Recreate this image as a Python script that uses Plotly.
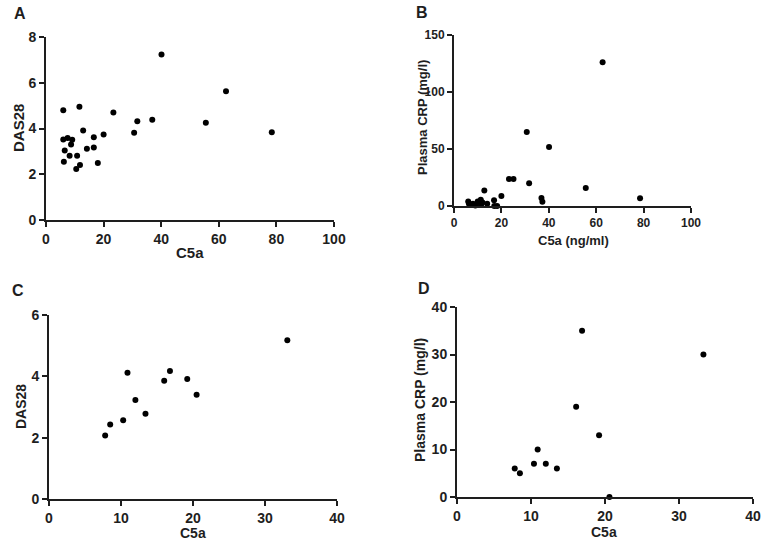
import plotly.graph_objects as go

# Panel A: C5a vs DAS28
a_c5a = [6.0, 11.6, 23.4, 40.1, 62.5, 55.5, 78.4, 36.9, 31.7, 30.6, 20.0, 16.6, 12.9,
         6.0, 7.5, 9.1, 8.7, 6.5, 14.2, 16.6, 8.2, 10.8, 6.2, 18.0, 11.8, 10.5]
a_das28 = [4.8, 4.95, 4.7, 7.24, 5.63, 4.25, 3.84, 4.38, 4.32, 3.81, 3.74, 3.62, 3.91,
           3.52, 3.58, 3.51, 3.30, 3.04, 3.11, 3.17, 2.81, 2.81, 2.55, 2.49, 2.40, 2.23]

# Panel B: C5a (ng/ml) vs Plasma CRP (mg/l)
b_c5a = [62.7, 30.7, 40.1, 23.2, 25.1, 31.7, 55.6, 78.5, 12.8, 20.0, 36.9, 37.3, 16.9,
         6.0, 6.3, 7.0, 8.0, 9.0, 10.0, 10.8, 11.3, 11.5, 12.0, 14.0, 17.0, 18.2]
b_crp = [126, 65, 51.8, 23.7, 23.7, 19.9, 15.8, 6.7, 13.7, 8.8, 7.0, 3.8, 5.0,
         4.0, 2.0, 1.0, 2.0, 0.5, 4.0, 2.5, 5.5, 1.5, 3.0, 2.0, 0.0, 0.0]

# Panel C: C5a vs DAS28
c_c5a = [7.8, 8.5, 10.3, 10.9, 12.0, 13.4, 16.0, 16.8, 19.2, 20.5, 33.1]
c_das28 = [2.07, 2.43, 2.57, 4.12, 3.23, 2.78, 3.86, 4.17, 3.91, 3.40, 5.18]

# Panel D: C5a vs Plasma CRP (mg/l)
d_c5a = [7.8, 8.5, 10.4, 10.9, 12.0, 13.5, 16.1, 16.9, 19.2, 20.6, 33.3]
d_crp = [6.0, 5.0, 7.0, 10.0, 7.0, 6.0, 19.0, 35.0, 13.0, 0.0, 30.0]

W, H = 762, 540
panels = [
    dict(x=a_c5a, y=a_das28, xr=[0, 100], xt=[0, 20, 40, 60, 80, 100], yr=[0, 8], yt=[0, 2, 4, 6, 8],
         xtitle="C5a", ytitle="DAS28", xd=[46, 334], yd=[220, 37], fs=14, ts=15,
         letter="A", lx=12, ly=14, xtp=(190, 252), ytp=(18, 128)),
    dict(x=b_c5a, y=b_crp, xr=[0, 100], xt=[0, 20, 40, 60, 80, 100], yr=[0, 150], yt=[0, 50, 100, 150],
         xtitle="C5a (ng/ml)", ytitle="Plasma CRP (mg/l)", xd=[454, 691], yd=[206, 35],
         fs=12, ts=13, letter="B", lx=414, ly=12, xtp=(573, 240), ytp=(422, 118)),
    dict(x=c_c5a, y=c_das28, xr=[0, 40], xt=[0, 10, 20, 30, 40], yr=[0, 6], yt=[0, 2, 4, 6],
         xtitle="C5a", ytitle="DAS28", xd=[49, 337], yd=[499, 315], fs=14, ts=14,
         letter="C", lx=10, ly=290, xtp=(193, 533), ytp=(21, 407)),
    dict(x=d_c5a, y=d_crp, xr=[0, 40], xt=[0, 10, 20, 30, 40], yr=[0, 40], yt=[0, 10, 20, 30, 40],
         xtitle="C5a", ytitle="Plasma CRP (mg/l)", xd=[457, 753], yd=[497, 307],
         fs=14, ts=14, letter="D", lx=416, ly=288, xtp=(604, 532), ytp=(420, 400)),
]

FONT = "Liberation Sans, Arial, sans-serif"
INK = "#1e1e1e"
fig = go.Figure()
annotations = []
for i, p in enumerate(panels, start=1):
    xa = "x" if i == 1 else f"x{i}"
    ya = "y" if i == 1 else f"y{i}"
    fig.add_trace(go.Scatter(x=p["x"], y=p["y"], mode="markers", xaxis=xa, yaxis=ya,
                             marker=dict(color="black", size=6), cliponaxis=False,
                             showlegend=False, hoverinfo="x+y"))
    axcommon = dict(showgrid=False, zeroline=False, showline=True, linecolor=INK, linewidth=2,
                    ticks="outside", ticklen=5, tickwidth=2, tickcolor=INK, automargin=False,
                    tickfont=dict(family=FONT, size=p["fs"], color=INK, weight="bold"))
    fig.update_layout(**{
        ("xaxis" if i == 1 else f"xaxis{i}"): dict(
            domain=[p["xd"][0]/W, p["xd"][1]/W], range=p["xr"], tickvals=p["xt"], anchor=ya, **axcommon),
        ("yaxis" if i == 1 else f"yaxis{i}"): dict(
            domain=[1-p["yd"][0]/H, 1-p["yd"][1]/H], range=p["yr"], tickvals=p["yt"], anchor=xa, **axcommon),
    })
    tfont = dict(family=FONT, size=p["ts"], color=INK, weight="bold")
    annotations.append(dict(text=p["xtitle"], x=p["xtp"][0]/W, y=1-p["xtp"][1]/H, xref="paper", yref="paper",
                            xanchor="center", yanchor="middle", showarrow=False, font=tfont))
    annotations.append(dict(text=p["ytitle"], x=p["ytp"][0]/W, y=1-p["ytp"][1]/H, xref="paper", yref="paper",
                            xanchor="center", yanchor="middle", showarrow=False, textangle=-90, font=tfont))
    annotations.append(dict(text=p["letter"], x=p["lx"]/W, y=1-p["ly"]/H, xref="paper", yref="paper",
                            xanchor="left", yanchor="middle", showarrow=False,
                            font=dict(family=FONT, size=16, color=INK, weight="bold")))

fig.update_layout(width=W, height=H, margin=dict(l=0, r=0, t=0, b=0),
                  paper_bgcolor="white", plot_bgcolor="white", annotations=annotations)
fig.write_html("out.html", config={"displayModeBar": False},
               post_script="document.body.style.margin='0';document.body.style.overflow='hidden';")
